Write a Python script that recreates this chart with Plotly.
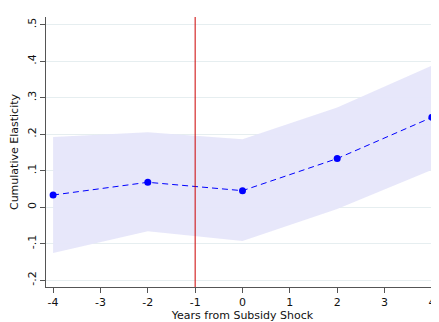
import plotly.graph_objects as go

years = [-4, -2, 0, 2, 4]
estimate = [0.033, 0.068, 0.045, 0.133, 0.246]
ci_upper = [0.192, 0.205, 0.186, 0.273, 0.388]
ci_lower = [-0.126, -0.066, -0.093, -0.005, 0.102]
y_ticks = [-0.2, -0.1, 0, 0.1, 0.2, 0.3, 0.4, 0.5]
y_ticklabels = ["-.2", "-.1", "0", ".1", ".2", ".3", ".4", ".5"]
x_ticks = [-4, -3, -2, -1, 0, 1, 2, 3, 4]
x_ticklabels = ["-4", "-3", "-2", "-1", "0", "1", "2", "3", "4"]
event_line = -1

fig = go.Figure()
fig.add_trace(go.Scatter(x=years, y=ci_upper, mode="lines", line=dict(width=0),
                         showlegend=False, hoverinfo="skip"))
fig.add_trace(go.Scatter(x=years, y=ci_lower, mode="lines", line=dict(width=0),
                         fill="tonexty", fillcolor="rgba(230,230,250,0.95)",
                         showlegend=False, hoverinfo="skip"))
fig.add_trace(go.Scatter(x=years, y=estimate, mode="lines+markers",
                         line=dict(color="#0000ff", width=1, dash="6px,4px"),
                         marker=dict(color="#0000ff", size=7),
                         showlegend=False))
fig.add_vline(x=event_line, line=dict(color="#cc0000", width=1))

font = dict(family="DejaVu Sans", size=11, color="#111111")
fig.update_layout(
    width=431, height=314,
    margin=dict(l=38, r=0, t=9, b=35),
    paper_bgcolor="white", plot_bgcolor="white",
    font=font,
    xaxis=dict(range=[-4.15, 4.15], tickvals=x_ticks, ticktext=x_ticklabels,
               ticks="outside", ticklen=5, automargin=False,
               tickcolor="#555555", showline=True, linecolor="#555555", linewidth=1,
               showgrid=False, zeroline=False, tickfont=font,
               title=dict(text="Years from Subsidy Shock", font=font, standoff=3)),
    yaxis=dict(range=[-0.219, 0.521], tickvals=y_ticks, ticktext=y_ticklabels,
               tickangle=-90, ticks="outside", ticklen=5, tickcolor="#555555",
               showline=True, linecolor="#555555", linewidth=1, automargin=False,
               showgrid=True, gridcolor="#e6eef0", gridwidth=1, zeroline=False,
               tickfont=font,
               title=dict(text="Cumulative Elasticity", font=font, standoff=5)),
)
fig.write_html("out.html")
